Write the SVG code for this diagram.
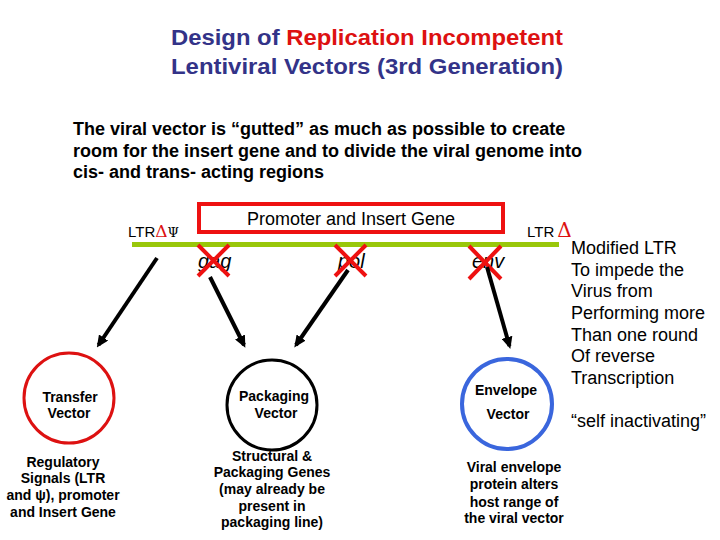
<svg xmlns="http://www.w3.org/2000/svg" width="720" height="540" viewBox="0 0 720 540">
<style>
text{font-family:"Liberation Sans",Arial,sans-serif}
.title{font-size:22px;font-weight:bold;fill:#333388}
.red{fill:#dd1111}
.para{font-size:18px;font-weight:bold;fill:#000}
.lbl{font-size:18px;fill:#000}
.ltr{font-size:15px;fill:#000}
.gene{font-size:20px;font-style:italic;fill:#000}
.node{font-size:14px;font-weight:bold;fill:#000;text-anchor:middle}
.desc{font-size:14px;font-weight:bold;fill:#000;text-anchor:middle}
.side{font-size:18px;fill:#000}
.x{stroke:#ee1111;stroke-width:4}
.conn{stroke:#000;stroke-width:4;fill:none;marker-end:url(#ah)}
</style>
<defs>
<marker id="ah" markerWidth="12" markerHeight="11" refX="9" refY="5.5" orient="auto" markerUnits="userSpaceOnUse">
<path d="M0,0 L12,5.5 L0,11 Z" fill="#000"/>
</marker>
</defs>
<rect width="720" height="540" fill="#fff"/>
<g id="title">
<text class="title" x="171" y="45" textLength="392" lengthAdjust="spacingAndGlyphs">Design of <tspan class="red">Replication Incompetent</tspan></text>
<text class="title" x="171" y="74" textLength="392" lengthAdjust="spacingAndGlyphs">Lentiviral Vectors (3rd Generation)</text>
</g>
<g id="intro">
<text class="para" x="73" y="135">The viral vector is “gutted” as much as possible to create</text>
<text class="para" x="73" y="157">room for the insert gene and to divide the viral genome into</text>
<text class="para" x="73" y="178">cis- and trans- acting regions</text>
</g>
<g id="genome">
<rect x="132" y="242" width="427" height="5" fill="#99c70a"/>
<text class="ltr" x="128" y="237">LTR<tspan fill="#dd1111" font-family="DejaVu Serif, serif" font-size="17">Δ</tspan><tspan font-family="DejaVu Serif, serif" font-size="13">Ψ</tspan></text>
<text class="ltr" x="527" y="237">LTR<tspan fill="#dd1111" font-family="DejaVu Serif, serif" font-size="20" dx="3">Δ</tspan></text>
</g>
<g id="insert">
<rect x="199" y="204" width="304" height="28" fill="#fff" stroke="#ee1111" stroke-width="4"/>
<text class="lbl" x="351" y="225" text-anchor="middle">Promoter and Insert Gene</text>
</g>
<g id="gag">
<text class="gene" x="198" y="268">gag</text>
<path class="x" d="M198,245 L229,276 M229,245 L198,276"/>
</g>
<g id="pol">
<text class="gene" x="338" y="268">pol</text>
<path class="x" d="M335,245 L366,276 M366,245 L335,276"/>
</g>
<g id="env">
<text class="gene" x="472" y="268">env</text>
<path class="x" d="M469,246 L501,279 M501,246 L469,279"/>
</g>
<g id="connectors">
<line class="conn" x1="157" y1="258" x2="98.5" y2="345"/>
<line class="conn" x1="210" y1="277" x2="244" y2="345"/>
<line class="conn" x1="348" y1="270" x2="296" y2="345"/>
<line class="conn" x1="487" y1="267" x2="509.5" y2="346"/>
</g>
<g id="transfer-vector">
<circle cx="69" cy="398" r="45" fill="#fff" stroke="#dd1111" stroke-width="3"/>
<text class="node" x="70" y="402">Transfer</text>
<text class="node" x="69" y="418">Vector</text>
<text class="desc" x="63" y="467">Regulatory</text>
<text class="desc" x="63" y="483">Signals (LTR</text>
<text class="desc" x="63" y="500">and ψ), promoter</text>
<text class="desc" x="63" y="517">and Insert Gene</text>
</g>
<g id="packaging-vector">
<circle cx="272" cy="405" r="45" fill="#fff" stroke="#000" stroke-width="3"/>
<text class="node" x="274" y="401">Packaging</text>
<text class="node" x="276" y="418">Vector</text>
<text class="desc" x="272" y="461">Structural &amp;</text>
<text class="desc" x="272" y="477">Packaging Genes</text>
<text class="desc" x="272" y="494">(may already be</text>
<text class="desc" x="272" y="511">present in</text>
<text class="desc" x="272" y="527">packaging line)</text>
</g>
<g id="envelope-vector">
<circle cx="507" cy="404" r="45" fill="#fff" stroke="#3a66dd" stroke-width="4"/>
<text class="node" x="506" y="395">Envelope</text>
<text class="node" x="508" y="419">Vector</text>
<text class="desc" x="514" y="472">Viral envelope</text>
<text class="desc" x="514" y="489">protein alters</text>
<text class="desc" x="514" y="507">host range of</text>
<text class="desc" x="514" y="523">the viral vector</text>
</g>
<g id="side-note">
<text class="side" x="571" y="254">Modified LTR</text>
<text class="side" x="571" y="276">To impede the</text>
<text class="side" x="571" y="297">Virus from</text>
<text class="side" x="571" y="319">Performing more</text>
<text class="side" x="571" y="341">Than one round</text>
<text class="side" x="571" y="362">Of reverse</text>
<text class="side" x="571" y="384">Transcription</text>
<text class="side" x="571" y="427">“self inactivating”</text>
</g>
</svg>
